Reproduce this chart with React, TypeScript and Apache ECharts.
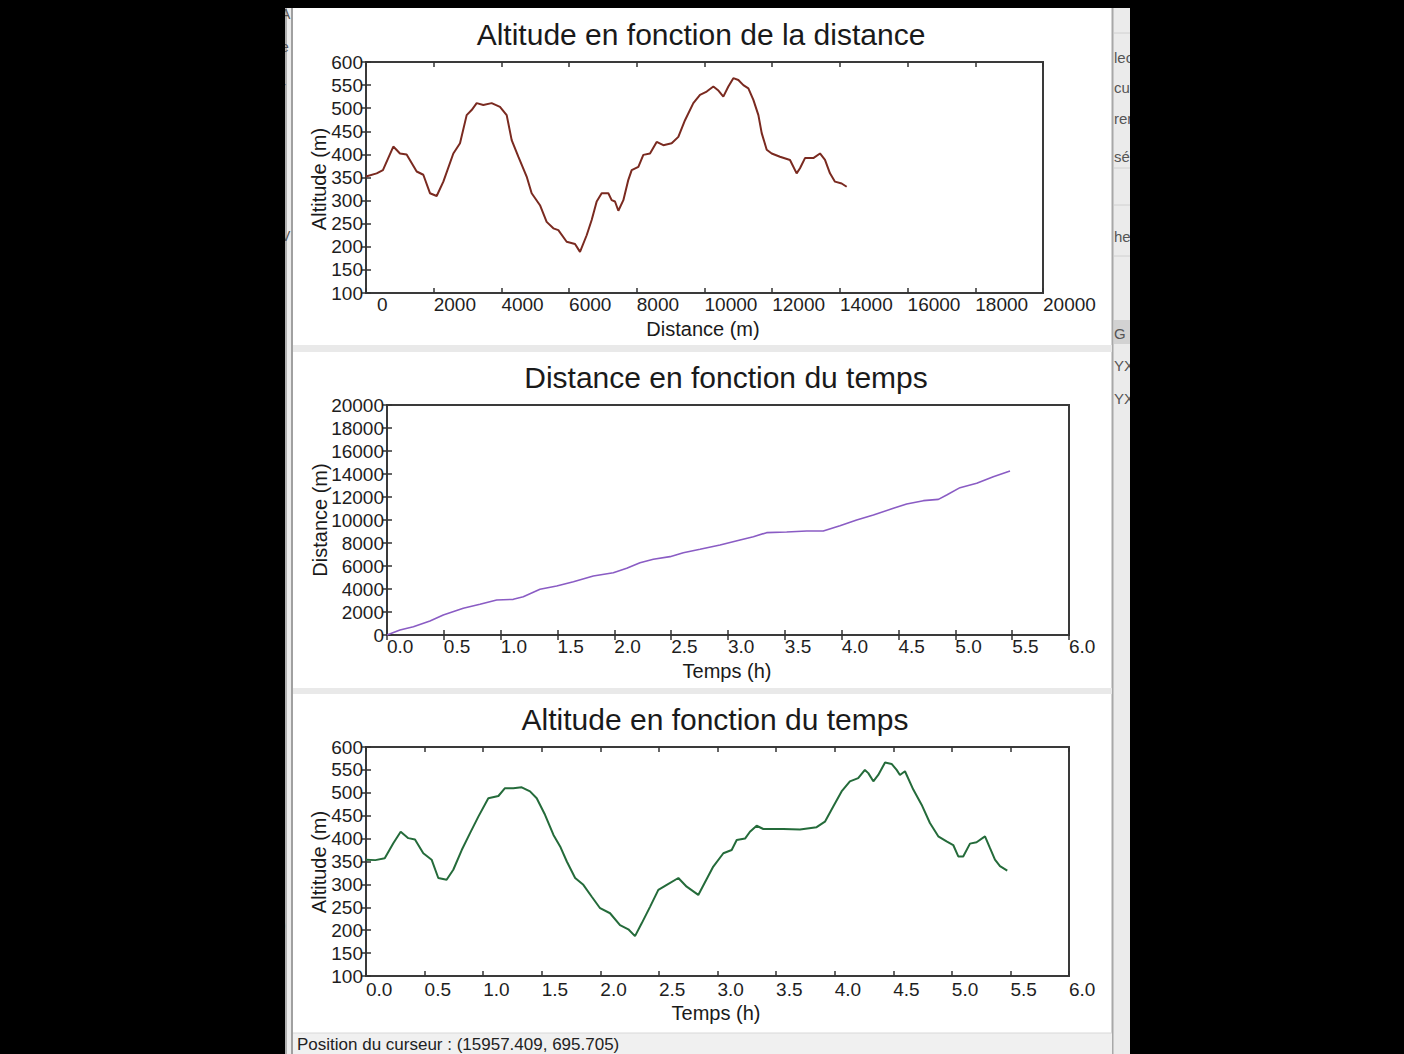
import React, { useEffect, useRef } from "react";
import * as echarts from "echarts";

// ---- Data ----
// Chart 1: altitude (m) versus distance (m)
const ALT_DIST_X = [0, 315, 500, 807, 1004, 1200, 1497, 1693, 1890, 2088, 2285, 2580, 2777, 2974, 3121, 3270, 3466, 3712, 3958, 4156, 4304, 4500, 4746, 4894, 5140, 5337, 5534, 5682, 5928, 6175, 6322, 6519, 6667, 6815, 6962, 7159, 7257, 7356, 7455, 7603, 7750, 7849, 8046, 8193, 8390, 8587, 8784, 9030, 9227, 9424, 9670, 9867, 10065, 10262, 10400, 10556, 10705, 10852, 11000, 11148, 11296, 11444, 11592, 11690, 11838, 11985, 12230, 12526, 12722, 12821, 12969, 13215, 13412, 13560, 13707, 13855, 14052, 14200];
const ALT_DIST_Y = [352, 359, 366, 417, 402, 400, 363, 356, 316, 310, 341, 402, 424, 485, 496, 511, 507, 511, 503, 485, 431, 395, 352, 316, 290, 254, 240, 236, 211, 206, 189, 225, 258, 298, 316, 316, 301, 298, 278, 301, 345, 366, 373, 399, 402, 427, 420, 424, 438, 474, 511, 529, 536, 547, 539, 525, 547, 565, 561, 550, 543, 518, 485, 446, 410, 402, 395, 388, 359, 370, 392, 392, 402, 388, 359, 341, 337, 330];

// Chart 2: distance (m) versus time (h)
const DIST_TIME_X = [0, 0.114, 0.232, 0.378, 0.495, 0.671, 0.818, 0.965, 1.111, 1.199, 1.346, 1.493, 1.64, 1.815, 1.991, 2.109, 2.226, 2.343, 2.49, 2.607, 2.754, 2.93, 3.106, 3.223, 3.34, 3.516, 3.692, 3.838, 3.985, 4.132, 4.279, 4.455, 4.572, 4.719, 4.851, 4.924, 5.041, 5.188, 5.334, 5.481];
const DIST_TIME_Y = [0, 435, 725, 1217, 1739, 2319, 2667, 3043, 3101, 3333, 3971, 4261, 4638, 5130, 5420, 5797, 6290, 6580, 6812, 7159, 7450, 7826, 8261, 8551, 8899, 8957, 9043, 9043, 9507, 10000, 10435, 11015, 11391, 11681, 11797, 12174, 12812, 13188, 13768, 14261];

// Chart 3: altitude (m) versus time (h)
const ALT_TIME_X = [0, 0.08, 0.16, 0.233, 0.296, 0.361, 0.418, 0.489, 0.56, 0.617, 0.688, 0.745, 0.817, 0.888, 0.959, 1.044, 1.13, 1.186, 1.257, 1.329, 1.4, 1.457, 1.528, 1.6, 1.657, 1.714, 1.785, 1.855, 1.927, 1.998, 2.083, 2.168, 2.239, 2.296, 2.353, 2.424, 2.495, 2.567, 2.666, 2.737, 2.836, 2.964, 3.05, 3.121, 3.164, 3.235, 3.277, 3.334, 3.391, 3.562, 3.704, 3.846, 3.917, 3.988, 4.059, 4.13, 4.201, 4.258, 4.287, 4.33, 4.372, 4.43, 4.486, 4.529, 4.557, 4.6, 4.671, 4.742, 4.813, 4.884, 4.955, 5.012, 5.055, 5.097, 5.155, 5.211, 5.283, 5.326, 5.368, 5.411, 5.473];
const ALT_TIME_Y = [354, 353, 357, 390, 415, 401, 398, 368, 354, 314, 310, 332, 375, 412, 448, 488, 493, 510, 510, 512, 503, 488, 452, 408, 383, 350, 314, 299, 273, 248, 237, 211, 202, 187, 215, 251, 288, 299, 314, 295, 277, 339, 368, 375, 397, 400, 415, 428, 421, 421, 420, 425, 437, 470, 503, 525, 532, 550, 543, 525, 539, 566, 563, 550, 539, 547, 507, 474, 434, 405, 394, 386, 361, 361, 389, 392, 405, 379, 354, 340, 330];

const TITLES = ["Altitude en fonction de la distance", "Distance en fonction du temps", "Altitude en fonction du temps"];
const X_NAMES = ["Distance (m)", "Temps (h)", "Temps (h)"];
const Y_NAMES = ["Altitude (m)", "Distance (m)", "Altitude (m)"];
const STATUS_TEXT = "Position du curseur : (15957.409, 695.705)";
const LEFT_FRAGMENTS = [["A", 14], ["e", 47], ["r", 87], ["V", 236], [")", 925]];
const RIGHT_FRAGMENTS = [["lec", 57], ["cu", 87], ["rer", 118], ["sél", 156], ["he", 236], ["G", 333], ["YX", 365], ["YX", 398]];

const FONT = "'Liberation Sans', Arial, Helvetica, sans-serif";
const TICK_COLOR = "#333";
const BOX_COLOR = "#3a3a3a";

const GRIDS = [
  { left: 366, top: 62, width: 677, height: 231 },
  { left: 387, top: 405, width: 682, height: 230 },
  { left: 366, top: 747, width: 703, height: 229 },
];

function pairs(xs: number[], ys: number[]) {
  return xs.map((x, i) => [x, ys[i]]);
}

export default function App() {
  const ref = useRef<HTMLDivElement | null>(null);

  useEffect(() => {
    if (!ref.current) return;
    const chart = echarts.init(ref.current, undefined, { renderer: "svg" });

    const xRanges = [
      { min: 0, max: 20000, interval: 2000 },
      { min: 0, max: 6, interval: 0.5 },
      { min: 0, max: 6, interval: 0.5 },
    ];
    const yRanges = [
      { min: 100, max: 600, interval: 50 },
      { min: 0, max: 20000, interval: 2000 },
      { min: 100, max: 600, interval: 50 },
    ];
    const xMargins = [2, 2, 4];

    const xAxes: any[] = [];
    const yAxes: any[] = [];
    GRIDS.forEach((_, g) => {
      const xr = xRanges[g];
      const yr = yRanges[g];
      xAxes.push({
        type: "value",
        gridIndex: g,
        position: "bottom",
        ...xr,
        splitLine: { show: false },
        axisLine: { show: false },
        axisTick: { show: true, inside: true, length: 5, lineStyle: { color: TICK_COLOR, width: 1.5 } },
        axisLabel: {
          show: true,
          interval: 0,
          hideOverlap: false,
          showMinLabel: true,
          showMaxLabel: true,
          align: "left",
          margin: xMargins[g],
          color: "#1e1e1e",
          fontSize: 19,
          fontFamily: FONT,
          formatter: (v: number) => {
            if (g === 0) return v === 0 ? "{z|0}" : String(v);
            return v.toFixed(1);
          },
          rich: {
            z: { padding: [0, 0, 0, 11], fontSize: 19, fontFamily: FONT, color: "#1e1e1e" },
          },
        },
      });
      xAxes.push({
        type: "value",
        gridIndex: g,
        position: "top",
        ...xr,
        splitLine: { show: false },
        axisLine: { show: false },
        axisTick: { show: true, inside: true, length: 5, lineStyle: { color: TICK_COLOR, width: 1.5 } },
        axisLabel: { show: false },
      });
      yAxes.push({
        type: "value",
        gridIndex: g,
        position: "left",
        ...yr,
        splitLine: { show: false },
        axisLine: { show: false },
        axisTick: { show: true, inside: true, length: 5, lineStyle: { color: TICK_COLOR, width: 1.5 } },
        axisLabel: {
          show: true,
          interval: 0,
          hideOverlap: false,
          showMinLabel: true,
          showMaxLabel: true,
          margin: 3,
          color: "#1e1e1e",
          fontSize: 19,
          fontFamily: FONT,
          formatter: (v: number) => String(v),
        },
      });
      yAxes.push({
        type: "value",
        gridIndex: g,
        position: "right",
        ...yr,
        splitLine: { show: false },
        axisLine: { show: false },
        axisTick: { show: true, inside: true, length: 5, lineStyle: { color: TICK_COLOR, width: 1.5 } },
        axisLabel: { show: false },
      });
    });

    const text = (t: string, x: number, y: number, size: number, extra: any = {}) => ({
      type: "text",
      x,
      y,
      z: 10,
      style: {
        text: t,
        fontSize: size,
        fontFamily: FONT,
        fill: "#1a1a1a",
        align: "center",
        verticalAlign: "middle",
        ...(extra.style || {}),
      },
      ...(extra.rotation !== undefined ? { rotation: extra.rotation } : {}),
    });

    const graphics: any[] = [
      // window frame
      { type: "rect", z: -20, shape: { x: 285, y: 8, width: 845, height: 1046 }, style: { fill: "#ebebeb" } },
      { type: "rect", z: -19, shape: { x: 293, y: 8, width: 819, height: 1046 }, style: { fill: "#ffffff" } },
      { type: "line", z: -18, shape: { x1: 286, y1: 8, x2: 286, y2: 1054 }, style: { stroke: "#9c9c9c", lineWidth: 1.5 } },
      { type: "line", z: -18, shape: { x1: 292, y1: 8, x2: 292, y2: 1054 }, style: { stroke: "#a0a0a0", lineWidth: 2 } },
      { type: "line", z: -18, shape: { x1: 1112.5, y1: 8, x2: 1112.5, y2: 1054 }, style: { stroke: "#a8a8a8", lineWidth: 2 } },
      // separators
      { type: "rect", z: -18, shape: { x: 293, y: 345, width: 819, height: 7 }, style: { fill: "#e9e9e9" } },
      { type: "rect", z: -18, shape: { x: 293, y: 688, width: 819, height: 6 }, style: { fill: "#e9e9e9" } },
      // status bar
      { type: "rect", z: -18, shape: { x: 293, y: 1033, width: 819, height: 21 }, style: { fill: "#f0f0f0" } },
      { type: "line", z: -17, shape: { x1: 293, y1: 1033, x2: 1112, y2: 1033 }, style: { stroke: "#d8d8d8", lineWidth: 1 } },
      // right strip details
      { type: "line", z: -17, shape: { x1: 1114, y1: 33, x2: 1130, y2: 33 }, style: { stroke: "#d0d0d0", lineWidth: 1 } },
      { type: "line", z: -17, shape: { x1: 1114, y1: 168, x2: 1130, y2: 168 }, style: { stroke: "#d0d0d0", lineWidth: 1 } },
      { type: "line", z: -17, shape: { x1: 1114, y1: 205, x2: 1130, y2: 205 }, style: { stroke: "#d0d0d0", lineWidth: 1 } },
      { type: "line", z: -17, shape: { x1: 1114, y1: 256, x2: 1130, y2: 256 }, style: { stroke: "#d0d0d0", lineWidth: 1 } },
      { type: "rect", z: -17, shape: { x: 1114, y: 320, width: 16, height: 24 }, style: { fill: "#d2d2d2" } },
      // titles
      text(TITLES[0], 701, 34, 30),
      text(TITLES[1], 726, 377, 30),
      text(TITLES[2], 715, 719, 30),
      // axis names
      text(X_NAMES[0], 703, 329, 20),
      text(X_NAMES[1], 727, 671, 20),
      text(X_NAMES[2], 716, 1013, 20),
      text(Y_NAMES[0], 319, 179, 20, { rotation: Math.PI / 2 }),
      text(Y_NAMES[1], 320, 520, 20, { rotation: Math.PI / 2 }),
      text(Y_NAMES[2], 319, 862, 20, { rotation: Math.PI / 2 }),
      // status text
      {
        type: "text", z: 10, x: 297, y: 1036,
        style: { text: STATUS_TEXT, fontSize: 17, fontFamily: FONT, fill: "#222", align: "left", verticalAlign: "top" },
      },
      ...LEFT_FRAGMENTS.map(([t, y]) => ({
        type: "text", z: 4, x: 281, y: y as number,
        style: { text: t as string, fontSize: 14, fontFamily: FONT, fill: "#555", align: "left", verticalAlign: "middle" },
      })),
      ...RIGHT_FRAGMENTS.map(([t, y]) => ({
        type: "text", z: 4, x: 1114, y: y as number,
        style: { text: t as string, fontSize: 15, fontFamily: FONT, fill: "#555", align: "left", verticalAlign: "middle" },
      })),
      // black surround
      { type: "rect", z: 6, shape: { x: 0, y: 0, width: 285, height: 1054 }, style: { fill: "#000" } },
      { type: "rect", z: 6, shape: { x: 1130, y: 0, width: 274, height: 1054 }, style: { fill: "#000" } },
      { type: "rect", z: 6, shape: { x: 0, y: 0, width: 1404, height: 8 }, style: { fill: "#000" } },
    ];

    const lineSeries = (g: number, data: number[][], color: string, width: number) => ({
      type: "line",
      xAxisIndex: g * 2,
      yAxisIndex: g * 2,
      data,
      showSymbol: false,
      symbol: "none",
      smooth: false,
      lineStyle: { color, width },
      emphasis: { disabled: true },
      silent: true,
      z: 3,
    });

    chart.setOption({
      animation: false,
      backgroundColor: "#000000",
      grid: GRIDS.map((g) => ({
        ...g,
        show: true,
        backgroundColor: "#ffffff",
        borderColor: BOX_COLOR,
        borderWidth: 2,
        containLabel: false,
      })),
      xAxis: xAxes,
      yAxis: yAxes,
      series: [
        lineSeries(0, pairs(ALT_DIST_X, ALT_DIST_Y), "#7a2a20", 2),
        lineSeries(1, pairs(DIST_TIME_X, DIST_TIME_Y), "#8a5cc4", 1.6),
        lineSeries(2, pairs(ALT_TIME_X, ALT_TIME_Y), "#246b3a", 2),
      ],
      graphic: { elements: graphics },
    });

    return () => chart.dispose();
  }, []);

  return (
    <div
      ref={ref}
      style={{ position: "fixed", left: 0, top: 0, width: 1404, height: 1054, background: "#000" }}
    />
  );
}
